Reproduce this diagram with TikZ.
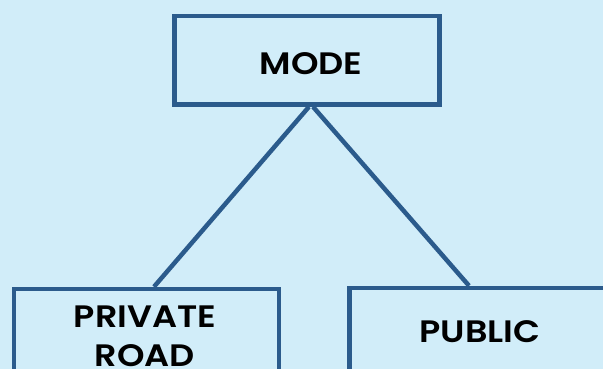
\documentclass[tikz,border=0pt]{standalone}
\usepackage{fontspec}
\setmainfont{Poppins}
\newfontfamily\lblfont{Poppins SemiBold}[FakeStretch=1.13]
\usetikzlibrary{backgrounds}
\definecolor{bgc}{HTML}{D1EDF9}
\definecolor{edgec}{HTML}{2B5B8C}
\begin{document}
\begin{tikzpicture}[x=1pt,y=-1pt,
  box/.style={draw=edgec, line width=4.5pt, fill=bgc, inner sep=0pt},
  lbl/.style={font=\fontsize{31}{39}\selectfont\lblfont, align=center, text=black, inner sep=0pt, anchor=base},
  link/.style={draw=edgec, line width=4.5pt}]
\useasboundingbox (0,0) rectangle (603,369);
\begin{scope}[on background layer]
\fill[bgc] (0,0) rectangle (603,369);
\end{scope}
\clip (0,0) rectangle (603,369);
\node[box, minimum width=265pt, minimum height=88.5pt] (mode) at (307,60.25) {};
\node[box, minimum width=265pt, minimum height=120pt] (priv) at (146.5,349) {};
\node[box, minimum width=265pt, minimum height=120pt] (pub) at (482,348) {};
\node[lbl] (modetxt) at (311,75) {MODE};
\node[lbl] (privtxt) at (145,366) {PRIVATE\\ROAD};
\node[lbl] (pubtxt) at (480,342) {PUBLIC};
\begin{scope}[on background layer]
\draw[link] ([xshift=2pt]mode.south) -- ([xshift=7.5pt]priv.north);
\draw[link] ([xshift=6pt]mode.south) -- ([xshift=-13pt]pub.north);
\end{scope}
\end{tikzpicture}
\end{document}
